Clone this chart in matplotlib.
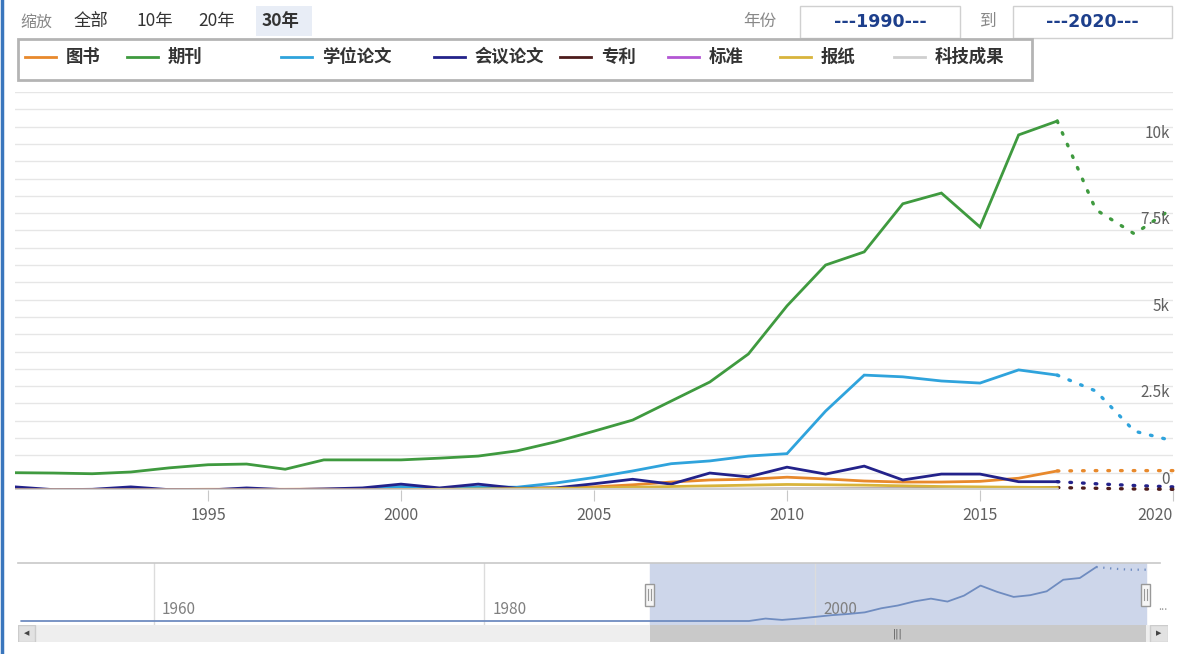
import numpy as np
import matplotlib
matplotlib.use("Agg")
import matplotlib.pyplot as plt
from matplotlib.patches import Rectangle
from matplotlib.lines import Line2D

plt.rcParams['font.family'] = ['Noto Sans CJK SC', 'DejaVu Sans']

# data
years = list(range(1990, 2018))
fc_years = [2017, 2018, 2019, 2020]

names = ['图书', '期刊', '学位论文', '会议论文', '专利', '标准', '报纸', '科技成果']
colors = ['#e8892c', '#3f9a3f', '#2fa3dc', '#23228a', '#4d1c1c', '#b356d4', '#d8b43c', '#cfcfcf']

books = [10, 10, 10, 15, 15, 20, 20, 20, 25, 25, 30, 30, 35, 40, 60, 90,
         150, 230, 290, 310, 370, 320, 260, 230, 230, 250, 340, 550]
journals = [500, 490, 470, 520, 640, 730, 750, 600, 870, 870, 870, 920, 980, 1130,
            1390, 1700, 2020, 2570, 3120, 3930, 5320, 6500, 6880, 8270, 8580, 7600,
            10260, 10660]
theses = [0, 0, 0, 0, 0, 0, 0, 0, 0, 30, 100, 40, 90, 80, 200, 360, 550, 760,
          840, 980, 1050, 2280, 3320, 3270, 3150, 3090, 3470, 3320]
conf = [90, 10, 20, 90, 10, 0, 60, 10, 30, 60, 170, 60, 170, 50, 60, 180, 310,
        170, 490, 380, 660, 460, 690, 290, 460, 460, 240, 240]
patents = [0, 0, 0, 0, 0, 0, 0, 0, 0, 0, 0, 0, 0, 0, 0, 10, 10, 15, 20, 20, 25,
           25, 30, 30, 40, 50, 60, 70]
standards = [0, 0, 0, 0, 0, 0, 0, 0, 0, 0, 5, 5, 5, 5, 10, 10, 10, 10, 15, 15,
             15, 15, 15, 15, 15, 15, 15, 15]
papers = [0, 0, 0, 0, 0, 0, 0, 0, 0, 0, 10, 20, 30, 40, 50, 60, 80, 100, 120, 140,
          160, 150, 140, 120, 100, 90, 80, 70]
achievements = [0, 0, 0, 0, 0, 0, 0, 0, 0, 0, 5, 5, 10, 10, 10, 15, 20, 20, 25,
                25, 30, 30, 30, 25, 25, 20, 20, 20]

books_fc = [550, 560, 560, 560]
journals_fc = [10660, 8100, 7400, 8150]
theses_fc = [3320, 2860, 1700, 1420]
conf_fc = [240, 180, 130, 90]
patents_fc = [70, 50, 30, 20]

series = [books, journals, theses, conf, patents, standards, papers, achievements]
forecasts = [books_fc, journals_fc, theses_fc, conf_fc, patents_fc, None, None, None]

# navigator series (relative height)
nav_years = [1952, 1996, 1997, 1998, 1999, 2000, 2001, 2002, 2003, 2004, 2005, 2006,
             2007, 2008, 2009, 2010, 2011, 2012, 2013, 2014, 2015, 2016, 2017]
nav_values = [0, 0, 0.045, 0.02, 0.045, 0.076, 0.108, 0.13, 0.16, 0.236, 0.287, 0.363,
              0.414, 0.36, 0.47, 0.656, 0.54, 0.446, 0.478, 0.55, 0.764, 0.796, 1.0]
nav_fc_years = [2017, 2018, 2019, 2020]
nav_fc_values = [1.0, 0.97, 0.95, 0.95]

range_start, range_end = 1990, 2020
nav_min, nav_max = 1951.8, 2020.85

W, H = 1178, 654


def fx(px):
    return px / W


def fy(py):
    return 1 - py / H


fig = plt.figure(figsize=(W / 100, H / 100), dpi=100)
fig.patch.set_facecolor('white')

# main chart
ax = fig.add_axes([fx(15), fy(490), (1173 - 15) / W, (490 - 92) / H])
for vals, fc, col in zip(series, forecasts, colors):
    ax.plot(years, vals, color=col, lw=2, solid_joinstyle='miter')
    if fc is not None:
        ax.plot(fc_years, fc, color=col, lw=2.4, linestyle=(0, (0.5, 3.3)),
                dash_capstyle='round', clip_on=False)

ax.set_xlim(1990, 2020)
ax.set_ylim(0, 11500)
ax.set_yticks(np.arange(0, 11501, 500))
ax.yaxis.set_ticklabels([])
ax.tick_params(axis='y', length=0)
ax.grid(axis='y', color='#e6e6e6', lw=1)
ax.set_axisbelow(True)
ax.set_xticks([1995, 2000, 2005, 2010, 2015, 2020])
ax.tick_params(axis='x', length=8, color='#c8c8c8', labelcolor='#606060',
               labelsize=11.5, pad=4)
ax.get_xticklabels()[-1].set_horizontalalignment('right')
for s in ax.spines.values():
    s.set_visible(False)

ylab = ax.get_yaxis_transform()
for v, t in zip([0, 2500, 5000, 7500, 10000], ['0', '2.5k', '5k', '7.5k', '10k']):
    ax.text(0.997, v + 60, t, transform=ylab, ha='right', va='bottom',
            fontsize=11, color='#606060')

# navigator
nav = fig.add_axes([fx(18), fy(625), (1160 - 18) / W, (625 - 563) / H])
nav.set_xlim(nav_min, nav_max)
nav.set_ylim(-0.074, 1.074)
nav.axvspan(range_start, range_end, color='#cdd6ea', zorder=0)
for yr in [1960, 1980, 2000]:
    nav.axvline(yr, color='#dcdcdc', lw=1, zorder=1)
    nav.text(yr + 0.5, 0.17, str(yr), fontsize=11, color='#808080',
             transform=nav.get_xaxis_transform(), zorder=2)
nav.plot(nav_years, nav_values, color='#6f8cc0', lw=1.3, zorder=3)
nav.plot(nav_fc_years, nav_fc_values, color='#6f8cc0', lw=1.6,
         linestyle=(0, (0.6, 2.5)), zorder=3)
nav.set_xticks([])
nav.set_yticks([])
for s in nav.spines.values():
    s.set_visible(False)
nav.axhline(1.074, color='#c8c8c8', lw=1.2, clip_on=False)

px_per_year = (1160 - 18) / (nav_max - nav_min)
hw = 9 / px_per_year
htrans = nav.get_xaxis_transform()
for yr in [range_start, range_end]:
    nav.add_patch(Rectangle((yr - hw / 2, 0.3), hw, 0.36, transform=htrans,
                            facecolor='#f6f6f6', edgecolor='#999999', lw=1,
                            zorder=5, clip_on=False))
    nav.plot([yr - hw / 6, yr - hw / 6], [0.4, 0.58], transform=htrans,
             color='#999999', lw=0.8, zorder=6, clip_on=False)
    nav.plot([yr + hw / 6, yr + hw / 6], [0.4, 0.58], transform=htrans,
             color='#999999', lw=0.8, zorder=6, clip_on=False)
fig.text(fx(1158), fy(610), '...', fontsize=8, color='#999999')

# scrollbar
sb = fig.add_axes([fx(18), fy(642), (1168 - 18) / W, 17 / H])
sb.set_xlim(18, 1168)
sb.set_ylim(0, 1)
sb.set_facecolor('#eeeeee')
for s in sb.spines.values():
    s.set_visible(False)
sb.set_xticks([])
sb.set_yticks([])
x0 = 18 + (range_start - nav_min) * px_per_year
x1 = 18 + (range_end - nav_min) * px_per_year
sb.add_patch(Rectangle((x0, 0), x1 - x0, 1, facecolor='#c9c9c9', edgecolor='none'))
sb.text((x0 + x1) / 2, 0.5, '|||', ha='center', va='center', fontsize=7,
        color='#555555', family='DejaVu Sans')
sb.add_patch(Rectangle((18, 0), 17, 1, facecolor='#e2e2e2', edgecolor='#cccccc'))
sb.add_patch(Rectangle((1150, 0), 18, 1, facecolor='#e2e2e2', edgecolor='#cccccc'))
sb.text(26.5, 0.5, '◀', ha='center', va='center', fontsize=5, color='#444444',
        family='DejaVu Sans')
sb.text(1159, 0.5, '▶', ha='center', va='center', fontsize=5, color='#444444',
        family='DejaVu Sans')

# toolbar
fig.text(fx(20), fy(22), '缩放', fontsize=11.5, color='#888888', va='center')
fig.patches.append(Rectangle((fx(256), fy(36)), 56 / W, 30 / H,
                             transform=fig.transFigure, facecolor='#e8edf6',
                             edgecolor='none'))
for x, t, w in [(74, '全部', 'normal'), (136, '10年', 'normal'),
                (198, '20年', 'normal'), (262, '30年', 'bold')]:
    fig.text(fx(x), fy(21), t, fontsize=12.5, color='#333333', va='center',
             fontweight=w)
fig.text(fx(743), fy(21), '年份', fontsize=12, color='#888888', va='center')
fig.text(fx(980), fy(21), '到', fontsize=12, color='#888888', va='center')
for bx0, bx1, t in [(800, 960, '---1990---'), (1013, 1172, '---2020---')]:
    fig.patches.append(Rectangle((fx(bx0), fy(38)), (bx1 - bx0) / W, 32 / H,
                                 transform=fig.transFigure, facecolor='white',
                                 edgecolor='#d0d0d0', lw=1))
    fig.text(fx((bx0 + bx1) / 2), fy(22), t, fontsize=12.5, color='#1d3f8c',
             fontweight='bold', ha='center', va='center', family='DejaVu Sans')

# legend
fig.patches.append(Rectangle((fx(18), fy(80)), (1032 - 18) / W, 41 / H,
                             transform=fig.transFigure, facecolor='white',
                             edgecolor='#b4b4b4', lw=2))
leg_x = [25, 127, 281, 434, 560, 668, 780, 894]
for lx, name, col in zip(leg_x, names, colors):
    fig.add_artist(Line2D([fx(lx), fx(lx + 31)], [fy(57), fy(57)], color=col,
                          lw=2, transform=fig.transFigure))
    fig.text(fx(lx + 41), fy(57), name, fontsize=12.5, color='#333333',
             fontweight='bold', va='center')

# left border
fig.add_artist(Line2D([fx(1.5), fx(1.5)], [0, 1], color='#3a76bd', lw=2.5,
                      transform=fig.transFigure))

fig.savefig('out.png', dpi=100, facecolor='white')
